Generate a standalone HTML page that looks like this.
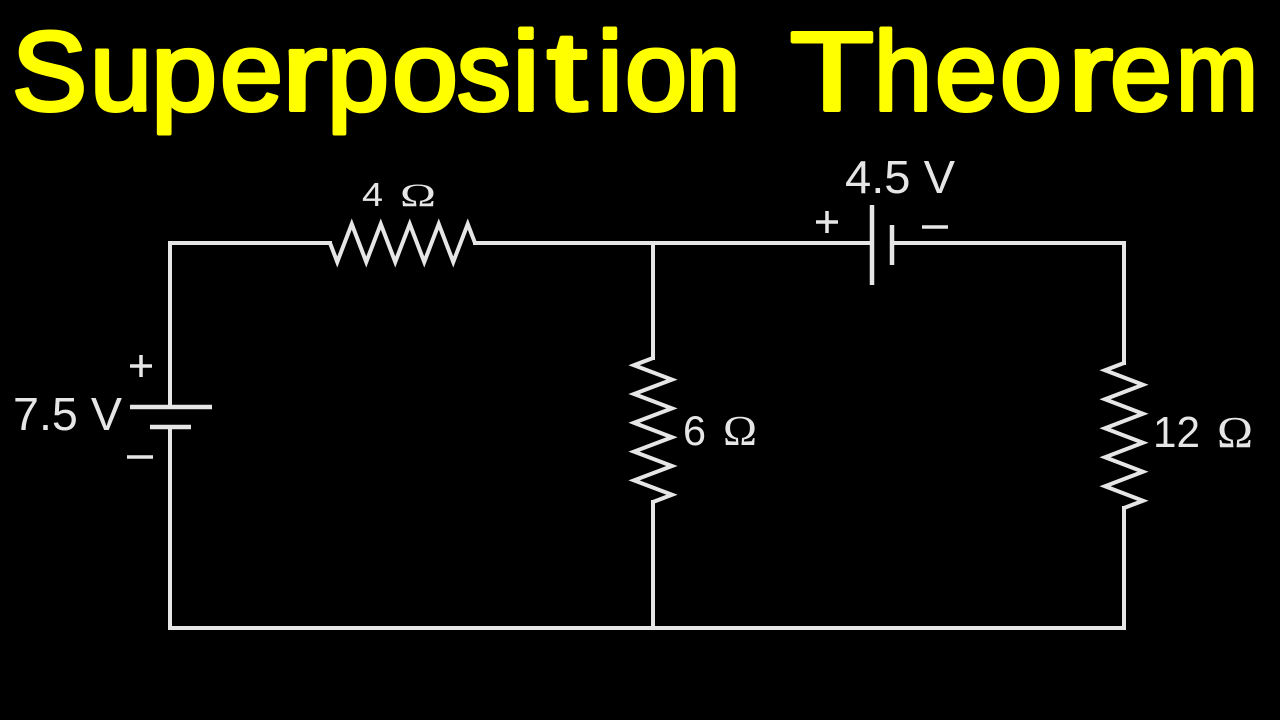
<!DOCTYPE html>
<html>
<head>
<meta charset="utf-8">
<style>
  html, body { margin: 0; padding: 0; background: #000; }
  body { width: 1280px; height: 720px; overflow: hidden; }
  svg { display: block; }
</style>
</head>
<body>
<svg width="1280" height="720" viewBox="0 0 1280 720" xmlns="http://www.w3.org/2000/svg">
  <rect x="0" y="0" width="1280" height="720" fill="#000"/>

  <!-- Title -->
  <g font-family="'Comic Sans MS', 'Liberation Sans', sans-serif" font-size="112" fill="#ffff00" stroke="#ffff00" stroke-width="4" stroke-linejoin="round">
    <text x="12" y="110" textLength="75" lengthAdjust="spacingAndGlyphs">S</text>
    <text x="90" y="110" textLength="62" lengthAdjust="spacingAndGlyphs">u</text>
    <text x="151" y="110" textLength="66" lengthAdjust="spacingAndGlyphs">p</text>
    <text x="220" y="110" textLength="63" lengthAdjust="spacingAndGlyphs">e</text>
    <text x="282" y="110" textLength="45" lengthAdjust="spacingAndGlyphs">r</text>
    <text x="327" y="110" textLength="62" lengthAdjust="spacingAndGlyphs">p</text>
    <text x="392" y="110" textLength="66" lengthAdjust="spacingAndGlyphs">o</text>
    <text x="457" y="110" textLength="54" lengthAdjust="spacingAndGlyphs">s</text>
    <text x="512" y="110" textLength="28" lengthAdjust="spacingAndGlyphs">i</text>
    <text x="547" y="110" textLength="40" lengthAdjust="spacingAndGlyphs">t</text>
    <text x="597" y="110" textLength="26" lengthAdjust="spacingAndGlyphs">i</text>
    <text x="625" y="110" textLength="62" lengthAdjust="spacingAndGlyphs">o</text>
    <text x="686" y="110" textLength="54" lengthAdjust="spacingAndGlyphs">n</text>
    <text x="790" y="110" textLength="84" lengthAdjust="spacingAndGlyphs">T</text>
    <text x="874" y="110" textLength="58" lengthAdjust="spacingAndGlyphs">h</text>
    <text x="935" y="110" textLength="62" lengthAdjust="spacingAndGlyphs">e</text>
    <text x="1000" y="110" textLength="62" lengthAdjust="spacingAndGlyphs">o</text>
    <text x="1068" y="110" textLength="45" lengthAdjust="spacingAndGlyphs">r</text>
    <text x="1110" y="110" textLength="62" lengthAdjust="spacingAndGlyphs">e</text>
    <text x="1176" y="110" textLength="82" lengthAdjust="spacingAndGlyphs">m</text>
  </g>

  <!-- Wires -->
  <g fill="none" stroke="#e6e6e6" stroke-width="4" stroke-linejoin="miter" stroke-linecap="butt">
    <path d="M 332 243 L 170 243 L 170 407"/>
    <path d="M 170 427 L 170 628 L 1124 628 L 1124 506"/>
    <path d="M 473 243 L 872 243"/>
    <path d="M 892 243 L 1124 243 L 1124 365"/>
    <path d="M 653 243 L 653 360"/>
    <path d="M 653 500 L 653 628"/>

    <!-- 4 ohm resistor -->
    <polyline points="330,243 337.25,262 351.75,224 366.25,262 380.75,224 395.25,262 409.75,224 424.25,262 438.75,224 453.25,262 467.75,224 475,243"/>

    <!-- 6 ohm resistor -->
    <polyline points="653,358 634,365.2 672,379.6 634,394 672,408.4 634,422.8 672,437.2 634,451.6 672,466 634,480.4 672,494.8 653,502"/>

    <!-- 12 ohm resistor -->
    <polyline points="1124,363 1105,370.25 1143,384.75 1105,399.25 1143,413.75 1105,428.25 1143,442.75 1105,457.25 1143,471.75 1105,486.25 1143,500.75 1124,508"/>
  </g>

  <!-- Batteries -->
  <g stroke="#e6e6e6" stroke-width="4.5" stroke-linecap="butt">
    <!-- 7.5 V -->
    <line x1="130" y1="407" x2="212" y2="407"/>
    <line x1="150" y1="427" x2="191" y2="427"/>
    <!-- 4.5 V -->
    <line x1="872" y1="205" x2="872" y2="285"/>
    <line x1="892" y1="225" x2="892" y2="265"/>
  </g>

  <!-- Plus / minus signs -->
  <g stroke="#e6e6e6" stroke-width="3.5" stroke-linecap="butt">
    <line x1="130" y1="366" x2="152" y2="366"/>
    <line x1="141" y1="355" x2="141" y2="377"/>
    <line x1="127" y1="457" x2="153" y2="457"/>

    <line x1="816" y1="222" x2="838" y2="222"/>
    <line x1="827" y1="211" x2="827" y2="233"/>
    <line x1="922" y1="227" x2="948" y2="227"/>
  </g>

  <!-- Labels -->
  <g fill="#e6e6e6" font-family="'Liberation Sans', Arial, sans-serif">
    <text x="13" y="430" font-size="46" textLength="109" lengthAdjust="spacingAndGlyphs">7.5 V</text>
    <text x="845" y="193" font-size="46" textLength="110" lengthAdjust="spacingAndGlyphs">4.5 V</text>
    <text x="362" y="206" font-size="33" textLength="21" lengthAdjust="spacingAndGlyphs">4</text>
    <text x="683" y="445" font-size="42" textLength="23" lengthAdjust="spacingAndGlyphs">6</text>
    <text x="1153" y="447" font-size="44" textLength="47" lengthAdjust="spacingAndGlyphs">12</text>
  </g>
  <g fill="#e6e6e6" font-family="'Liberation Serif', 'Times New Roman', serif">
    <text x="400" y="206" font-size="33" textLength="36" lengthAdjust="spacingAndGlyphs">Ω</text>
    <text x="723" y="445" font-size="42" textLength="34" lengthAdjust="spacingAndGlyphs">Ω</text>
    <text x="1217" y="447" font-size="44" textLength="36" lengthAdjust="spacingAndGlyphs">Ω</text>
  </g>
</svg>
</body>
</html>
